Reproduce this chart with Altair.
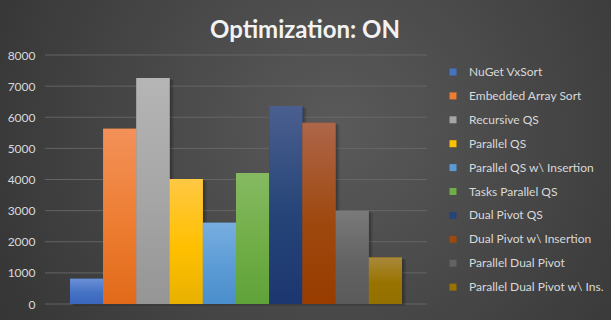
import altair as alt
import pandas as pd

title_text = ["Optimization: ON"]
categories = [
    "NuGet VxSort", "Embedded Array Sort", "Recursive QS", "Parallel QS",
    "Parallel QS w\\ Insertion", "Tasks Parallel QS", "Dual Pivot QS",
    "Dual Pivot w\\ Insertion", "Parallel Dual Pivot", "Parallel Dual Pivot w\\ Ins.",
]
values = [810, 5630, 7260, 4020, 2610, 4210, 6360, 5820, 3000, 1490]
base_colors = ["#4472C4", "#ED7D31", "#A5A5A5", "#FFC000", "#5B9BD5",
               "#70AD47", "#264478", "#9E480E", "#636363", "#997300"]
top_colors = ["#6A8FD6", "#F39159", "#B5B5B5", "#FFC843", "#78AEE0",
              "#86BA62", "#4A5F8F", "#AE664A", "#7A7A7A", "#A8893A"]
bottom_colors = ["#3A66BE", "#E26A1A", "#959595", "#E8B000", "#4A8ECB",
                 "#60A23A", "#1C3770", "#983C00", "#5A5A5A", "#927000"]
y_ticks = [0, 1000, 2000, 3000, 4000, 5000, 6000, 7000, 8000]

df = pd.DataFrame({"cat": categories, "val": values})
grid_df = pd.DataFrame({"val": y_ticks})
title_df = pd.DataFrame({"t": title_text})

FONT = "Lato"
W, H = 382, 249
PL, PT = 45, 55

yscale = alt.Scale(domain=[0, 8000], nice=False)
yaxis = alt.Axis(values=y_ticks, format="d", domain=False, ticks=False, grid=False,
                 labelColor="#d9d9d9", labelFont=FONT, labelFontSize=12,
                 labelPadding=10, zindex=1)
yenc = alt.Y("val:Q", title=None, scale=yscale, axis=yaxis)
xenc = alt.X("cat:N", sort=None, axis=None,
             scale=alt.Scale(domain=categories, paddingInner=0, paddingOuter=0.753))

bgrect = alt.Chart(title_df).mark_rect(
    fill=alt.RadialGradient(
        gradient="radial", x1=0.55, y1=0.45, x2=0.55, y2=0.45, r1=0, r2=0.75,
        stops=[alt.GradientStop(color="#5a5a5a", offset=0),
               alt.GradientStop(color="#2e2e2e", offset=1)])
).encode(x=alt.value(-PL), x2=alt.value(611 - PL),
         y=alt.value(-PT), y2=alt.value(320 - PT))

grid = alt.Chart(grid_df).mark_rule(color="#6a6a6a", opacity=0.85, strokeWidth=1).encode(
    y=yenc, x=alt.value(0), x2=alt.value(W))

title = alt.Chart(title_df).mark_text(
    font=FONT, fontSize=24, fontWeight="bold", color="#f2f2f2",
    align="center", baseline="alphabetic"
).encode(text="t:N", x=alt.value(305 - PL), y=alt.value(38 - PT))

legend_layer = alt.Chart(df).mark_bar().encode(
    x=xenc, y=yenc,
    color=alt.Color("cat:N", sort=None,
                    scale=alt.Scale(domain=categories, range=base_colors),
                    legend=alt.Legend(title=None, orient="none", legendX=402, legendY=11,
                                      symbolType="square", symbolSize=49,
                                      symbolStrokeWidth=0, labelColor="#d9d9d9",
                                      labelFont=FONT, labelFontSize=12,
                                      labelOffset=10, rowPadding=11.9,
                                      labelLimit=200)),
)

shadow1 = alt.Chart(df).mark_bar(color="black", opacity=0.18, xOffset=2, yOffset=1).encode(
    x=xenc, y=yenc)
shadow2 = alt.Chart(df).mark_bar(color="black", opacity=0.12, xOffset=4, yOffset=2).encode(
    x=xenc, y=yenc)

layers = [bgrect, grid, shadow2, shadow1, legend_layer]
for c, t, m, b in zip(categories, top_colors, base_colors, bottom_colors):
    grad = alt.LinearGradient(
        gradient="linear", x1=0, y1=0, x2=0, y2=1,
        stops=[alt.GradientStop(color=t, offset=0),
               alt.GradientStop(color=m, offset=0.55),
               alt.GradientStop(color=b, offset=1)])
    layers.append(
        alt.Chart(df).transform_filter(alt.datum.cat == c)
        .mark_bar(color=grad).encode(x=xenc, y=yenc)
    )
layers.append(title)

chart = alt.layer(*layers).properties(
    width=W, height=H,
    autosize=alt.AutoSizeParams(type="none"),
    padding={"left": PL, "top": PT, "right": 611 - PL - W, "bottom": 320 - PT - H},
    background="#3a3a3a",
).configure_view(stroke=None)

chart.save("out.html", embed_options={"renderer": "svg", "actions": False})
